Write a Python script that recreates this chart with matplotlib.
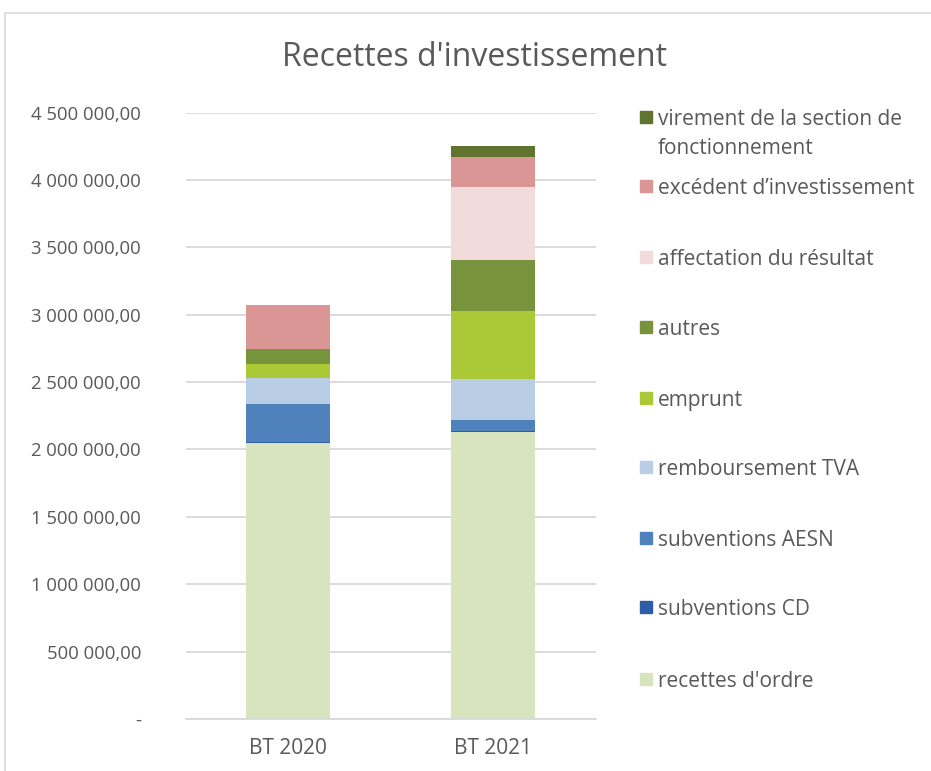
import matplotlib
matplotlib.use("Agg")
import matplotlib.pyplot as plt
from matplotlib.patches import Rectangle
from matplotlib.ticker import FuncFormatter

# Data
years = ["BT 2020", "BT 2021"]
series_names = [
    "recettes d'ordre",
    "subventions CD",
    "subventions AESN",
    "remboursement TVA",
    "emprunt",
    "autres",
    "affectation du résultat",
    "excédent d\u2019investissement",
    "virement de la section de\nfonctionnement",
]
recettes_ordre = [2045000, 2129000]
subv_cd = [12000, 10000]
subv_aesn = [277000, 77000]
remb_tva = [193000, 306000]
emprunt = [106000, 507000]
autres = [109000, 376000]
affectation = [0, 539000]
excedent = [329000, 223000]
virement = [0, 86000]

series_values = [recettes_ordre, subv_cd, subv_aesn, remb_tva, emprunt,
                 autres, affectation, excedent, virement]
colors = ["#d7e4bd", "#2c5ea8", "#4f81bd", "#b9cde5", "#abc837",
          "#77933c", "#f2dcdb", "#d99694", "#607430"]

TXT = "#595959"
GRID = "#d9d9d9"
plt.rcParams['font.family'] = ['Open Sans', 'DejaVu Sans']

fig = plt.figure(figsize=(9.31, 7.71), dpi=100)
ax = fig.add_axes([185.5 / 931, 1 - 719 / 771, 410 / 931, 606.5 / 771])

x = range(len(years))
bottom = [0, 0]
for vals, col in zip(series_values, colors):
    ax.bar(x, vals, width=0.405, bottom=bottom, color=col, linewidth=0)
    bottom = [b + v for b, v in zip(bottom, vals)]

ax.set_xlim(-0.5, 1.5)
ax.set_ylim(0, 4500000)
ax.set_yticks(range(0, 4500001, 500000))


def fmt(v, pos):
    if v == 0:
        return "-"
    return f"{v:,.2f}".replace(",", " ").replace(".", ",")


ax.yaxis.set_major_formatter(FuncFormatter(fmt))
ax.set_xticks(list(x))
ax.set_xticklabels(years)
ax.tick_params(axis='y', length=0, pad=32, labelsize=13.3, labelcolor=TXT)
ax.tick_params(axis='x', length=0, pad=14, labelsize=15, labelcolor=TXT)
ax.grid(axis='y', color=GRID, linewidth=1.3)
ax.set_axisbelow(True)
for s in ["top", "right", "left"]:
    ax.spines[s].set_visible(False)
ax.spines["bottom"].set_color(GRID)
ax.spines["bottom"].set_linewidth(1.3)

fig.text(475 / 931, 1 - 57 / 771, "Recettes d'investissement", ha='center',
         va='center', fontsize=23, color=TXT)

# legend, top to bottom in reverse stacking order
leg_y = [117, 186, 257, 327, 398, 467, 538, 607, 679]
for name, col, yy in zip(series_names[::-1], colors[::-1], leg_y):
    fig.patches.append(Rectangle((640 / 931, 1 - (yy + 6) / 771), 12 / 931, 12 / 771,
                                 transform=fig.transFigure, color=col, figure=fig))
    fig.text(658 / 931, 1 - (yy - 8) / 771, name, ha='left', va='top',
             fontsize=15, color=TXT, linespacing=1.5)

# chart border
fig.patches.append(Rectangle((5 / 931, -0.05), 1.0, 1 - 13 / 771 + 0.05,
                             transform=fig.transFigure, fill=False,
                             edgecolor=GRID, linewidth=1.2, figure=fig))

fig.savefig("out.png", dpi=100)
